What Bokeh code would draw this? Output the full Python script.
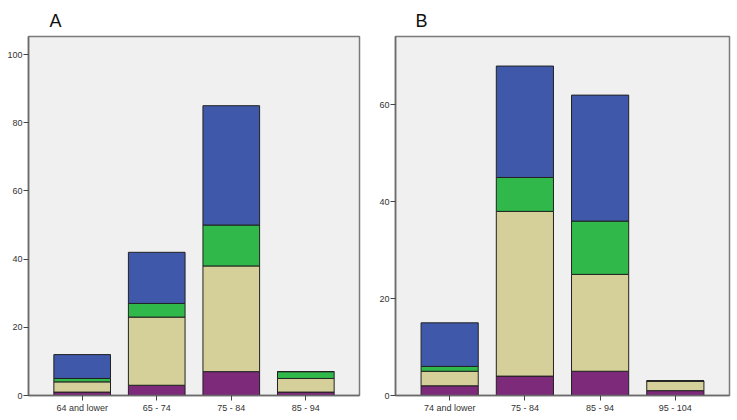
from bokeh.plotting import figure
from bokeh.models import ColumnDataSource, Range1d, FixedTicker, Title
from bokeh.layouts import row
from bokeh.embed import file_html
from bokeh.resources import INLINE

# Panel A data
cats_a = ["64 and lower", "65 - 74", "75 - 84", "85 - 94"]
a_purple = [1, 3, 7, 1]
a_tan = [3, 20, 31, 4]
a_green = [1, 4, 12, 2]
a_blue = [7, 15, 35, 0]

# Panel B data
cats_b = ["74 and lower", "75 - 84", "85 - 94", "95 - 104"]
b_purple = [2, 4, 5, 1]
b_tan = [3, 34, 20, 2]
b_green = [1, 7, 11, 0]
b_blue = [9, 23, 26, 0]

yticks_a = [0, 20, 40, 60, 80, 100]
yticks_b = [0, 20, 40, 60]

COLORS = ["#7D2A7B", "#D5CF99", "#30B84A", "#3F58A9"]
FONT = "Liberation Sans"


def make_panel(label, cats, series, yticks, ymax, width, left, right, title_offset):
    x = list(range(len(cats)))
    data = {"x": x, "s1": series[0], "s2": series[1], "s3": series[2], "s4": series[3]}
    src = ColumnDataSource(data)
    p = figure(width=width, height=420, output_backend="svg", toolbar_location=None,
               x_range=Range1d(-0.72, len(cats) - 1 + 0.72), y_range=Range1d(0, ymax),
               min_border_left=left, min_border_right=right, min_border_top=36,
               min_border_bottom=25)
    p.vbar_stack(["s1", "s2", "s3", "s4"], x="x", width=0.76, color=COLORS,
                 line_color="#222222", line_width=1, source=src)
    p.background_fill_color = "#F0F0F0"
    p.border_fill_color = "white"
    p.outline_line_color = "#7A7A7A"
    p.outline_line_width = 1.5
    p.grid.visible = False

    t = Title(text=label, align="left", offset=title_offset, text_font=FONT,
              text_font_size="18px", text_font_style="normal", text_color="#111111",
              standoff=11)
    p.add_layout(t, "above")

    for ax in (p.xaxis[0], p.yaxis[0]):
        ax.axis_line_color = "#6A6A6A"
        ax.axis_line_width = 1.5
        ax.major_tick_line_color = "#444444"
        ax.major_tick_in = 0
        ax.major_tick_out = 5
        ax.minor_tick_line_color = None
        ax.major_label_text_font = FONT
        ax.major_label_text_font_size = "9px"
        ax.major_label_text_color = "#333333"
        ax.major_label_standoff = 1

    p.xaxis.ticker = FixedTicker(ticks=x)
    p.xaxis.major_label_overrides = {i: c for i, c in enumerate(cats)}
    p.xaxis.major_label_standoff = 2
    p.yaxis.ticker = FixedTicker(ticks=yticks)
    return p


pa = make_panel("A", cats_a, [a_purple, a_tan, a_green, a_blue], yticks_a, 105.3,
                370, 28, 11, 21)
pb = make_panel("B", cats_b, [b_purple, b_tan, b_green, b_blue], yticks_b, 74.1,
                367, 25, 8, 20)

layout = row(pa, pb)
open("out.html", "w").write(file_html(layout, INLINE))
